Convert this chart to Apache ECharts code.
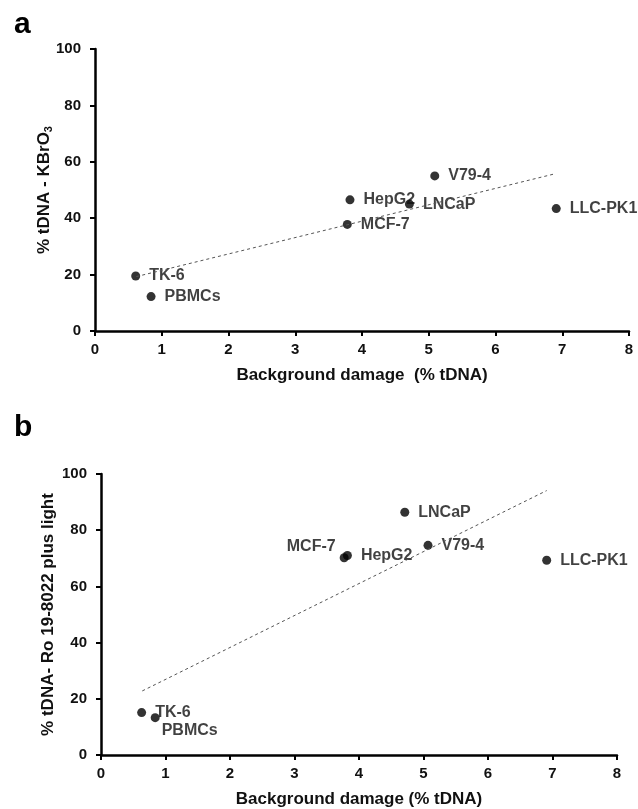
<!DOCTYPE html>
<html><head><meta charset="utf-8">
<script src="https://cdn.jsdelivr.net/npm/echarts@6/dist/echarts.min.js"></script>
<style>html,body{margin:0;padding:0;background:#fff}#c{width:638px;height:809px}</style>
</head><body><div id="c"></div>
<script>
// Panel a: KBrO3
const cellsA = ['TK-6','PBMCs','HepG2','MCF-7','LNCaP','V79-4','LLC-PK1'];
const bgA    = [0.61, 0.84, 3.82, 3.78, 4.71, 5.09, 6.91];
const valA   = [19.5, 12.2, 46.5, 37.8, 45.0, 55.0, 43.4];
const trendA = [[0.62, 19.3], [6.9, 55.8]];
// Panel b: Ro 19-8022 plus light
const cellsB = ['TK-6','PBMCs','MCF-7','HepG2','LNCaP','V79-4','LLC-PK1'];
const bgB    = [0.63, 0.84, 3.77, 3.82, 4.71, 5.07, 6.91];
const valB   = [15.1, 13.3, 70.2, 71.0, 86.4, 74.6, 69.3];
const trendB = [[0.64, 22.8], [6.91, 94.1]];
const xTicks = [0,1,2,3,4,5,6,7,8];
const yTicks = [0,20,40,60,80,100];

const FONT = 'Liberation Sans, Arial, sans-serif';
const labelPosA = {};
const labelPosB = {
  'PBMCs': {position:'right', offset:[-7, 13]},
  'MCF-7': {position:'left', distance:4, offset:[0,-11]}
};

function pts(names, xs, ys, pos){
  return names.map((n,i)=>{
    const lp = pos[n] || {};
    return {value:[xs[i], ys[i]], name:n,
      label:Object.assign({show:true, position:'right', distance:9, formatter:n}, lp)};
  });
}
const axisCommon = {
  axisLine:{show:true, onZero:false, lineStyle:{color:'#000', width:2.5}},
  axisTick:{show:true, inside:false, length:5, lineStyle:{color:'#000', width:2}},
  splitLine:{show:false},
  axisLabel:{color:'#111', fontSize:15, fontWeight:'bold', fontFamily:FONT},
  nameTextStyle:{color:'#111', fontSize:17, fontWeight:'bold', fontFamily:FONT},
  nameLocation:'middle',
  nameMoveOverlap:false
};
function xAx(idx, name){
  return Object.assign({}, axisCommon, {type:'value', gridIndex:idx, min:xTicks[0], max:xTicks[xTicks.length-1], interval:1, name:name, nameGap:36,
    axisLabel:Object.assign({}, axisCommon.axisLabel, {margin:11})});
}
function yAx(idx, name, gap, rich){
  return Object.assign({}, axisCommon, {type:'value', gridIndex:idx, min:yTicks[0], max:yTicks[yTicks.length-1], interval:20, name:name, nameGap:gap,
    axisLabel:Object.assign({}, axisCommon.axisLabel, {margin:14}),
    nameTextStyle:Object.assign({}, axisCommon.nameTextStyle, rich?{rich:rich}:{})});
}
const lblStyle = {color:'#111', fontSize:16, fontWeight:'bold', fontFamily:FONT};
const chart = echarts.init(document.getElementById('c'), null, {renderer:'canvas'});
chart.setOption({
  animation:false,
  backgroundColor:'#fff',
  graphic:[
    {type:'text', left:14, top:10, style:{text:'a', font:'bold 30px '+FONT, fill:'#000'}},
    {type:'text', left:14, top:413, style:{text:'b', font:'bold 30px '+FONT, fill:'#000'}}
  ],
  grid:[
    {left:95, top:49, width:534, height:282},
    {left:101, top:474, width:516, height:283}
  ],
  xAxis:[xAx(0,'Background damage  (% tDNA)'), xAx(1,'Background damage (% tDNA)')],
  yAxis:[
    yAx(0,'% tDNA - KBrO{sub|3}', 41, {sub:{fontSize:11, fontWeight:'bold', fontFamily:FONT, color:'#111', verticalAlign:'bottom', padding:[9,0,0,0]}}),
    yAx(1,'% tDNA- Ro 19-8022 plus light', 44)
  ],
  series:[
    {type:'line', xAxisIndex:0, yAxisIndex:0, data:trendA, symbol:'none', silent:true,
      lineStyle:{color:'#555', width:1, type:[3,3]}},
    {type:'scatter', xAxisIndex:0, yAxisIndex:0, symbol:'circle', symbolSize:9,
      itemStyle:{color:'#000'}, label:lblStyle, data:pts(cellsA,bgA,valA,labelPosA)},
    {type:'line', xAxisIndex:1, yAxisIndex:1, data:trendB, symbol:'none', silent:true,
      lineStyle:{color:'#555', width:1, type:[3,3]}},
    {type:'scatter', xAxisIndex:1, yAxisIndex:1, symbol:'circle', symbolSize:9,
      itemStyle:{color:'#000'}, label:lblStyle, data:pts(cellsB,bgB,valB,labelPosB)}
  ]
});
</script></body></html>
